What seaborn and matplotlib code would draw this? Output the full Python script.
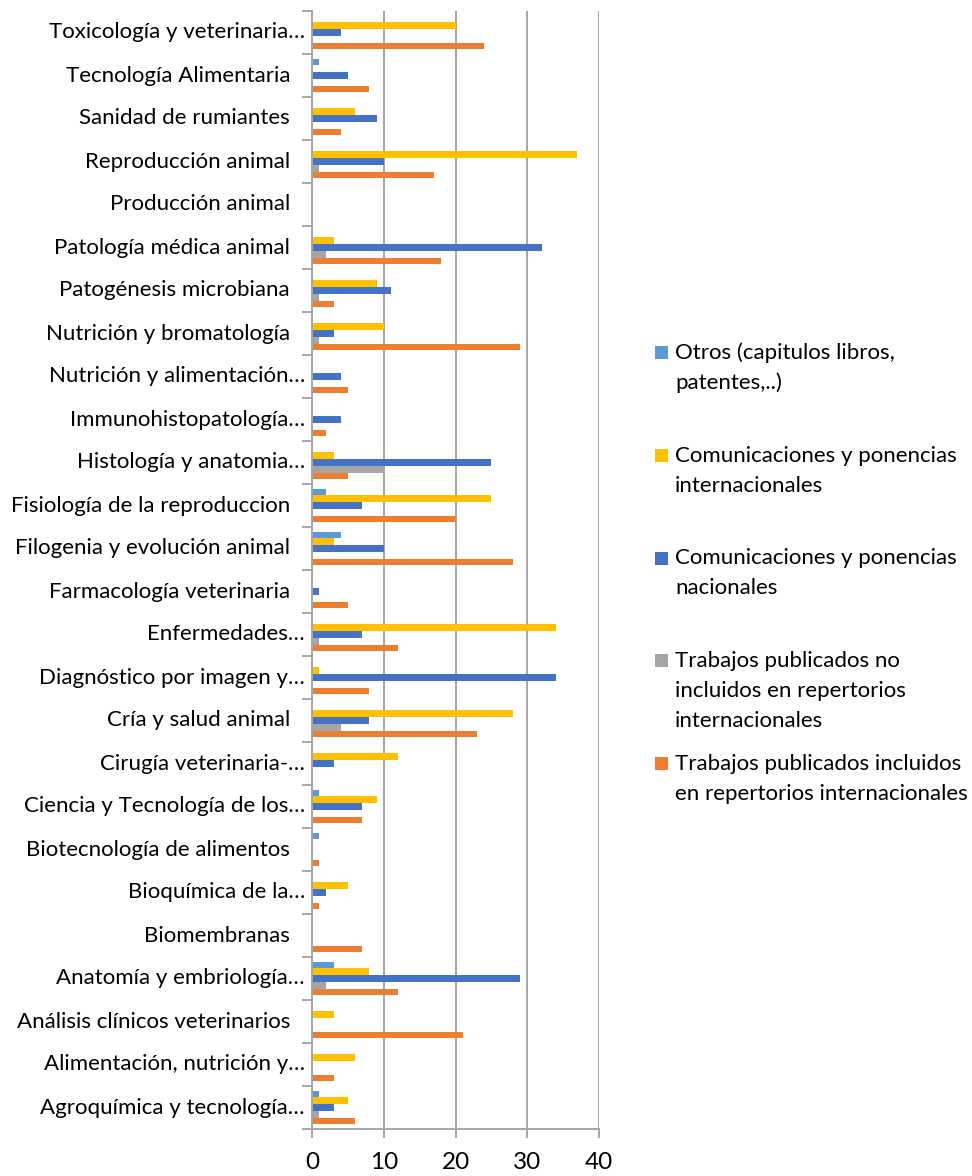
import matplotlib
matplotlib.use("Agg")
import matplotlib.pyplot as plt
from matplotlib.patches import Rectangle
from matplotlib.transforms import blended_transform_factory, offset_copy
import numpy as np
import pandas as pd
import seaborn as sns

plt.rcParams["font.family"] = ["Lato", "DejaVu Sans"]

# Research areas, listed from top to bottom
areas = [
    "Toxicología y veterinaria…",
    "Tecnología Alimentaria",
    "Sanidad de rumiantes",
    "Reproducción animal",
    "Producción animal",
    "Patología médica animal",
    "Patogénesis microbiana",
    "Nutrición y bromatología",
    "Nutrición y alimentación…",
    "Immunohistopatología…",
    "Histología y anatomia…",
    "Fisiología de la reproduccion",
    "Filogenia y evolución animal",
    "Farmacología veterinaria",
    "Enfermedades…",
    "Diagnóstico por imagen y…",
    "Cría y salud animal",
    "Cirugía veterinaria-…",
    "Ciencia y Tecnología de los…",
    "Biotecnología de alimentos",
    "Bioquímica de la…",
    "Biomembranas",
    "Anatomía y embriología…",
    "Análisis clínicos veterinarios",
    "Alimentación, nutrición y…",
    "Agroquímica y tecnología…",
]

# Output counts per area (same order as `areas`)
otros = [0, 1, 0, 0, 0, 0, 0, 0, 0, 0, 0, 2, 4, 0, 0, 0, 0, 0, 1, 1, 0, 0, 3, 0, 0, 1]
com_internacionales = [20, 0, 6, 37, 0, 3, 9, 10, 0, 0, 3, 25, 3, 0, 34, 1, 28, 12, 9, 0, 5, 0, 8, 3, 6, 5]
com_nacionales = [4, 5, 9, 10, 0, 32, 11, 3, 4, 4, 25, 7, 10, 1, 7, 34, 8, 3, 7, 0, 2, 0, 29, 0, 0, 3]
trab_no_incluidos = [0, 0, 0, 1, 0, 2, 1, 1, 0, 0, 10, 0, 0, 0, 1, 0, 4, 0, 0, 0, 0, 0, 2, 0, 0, 1]
trab_incluidos = [24, 8, 4, 17, 0, 18, 3, 29, 5, 2, 5, 20, 28, 5, 12, 8, 23, 0, 7, 1, 1, 7, 12, 21, 3, 6]

series_names = [
    "Otros (capitulos libros, patentes,..)",
    "Comunicaciones y ponencias internacionales",
    "Comunicaciones y ponencias nacionales",
    "Trabajos publicados no incluidos en repertorios internacionales",
    "Trabajos publicados incluidos en repertorios internacionales",
]
legend_lines = [
    ["Otros (capitulos libros,", "patentes,..)"],
    ["Comunicaciones y ponencias", "internacionales"],
    ["Comunicaciones y ponencias", "nacionales"],
    ["Trabajos publicados no", "incluidos en repertorios", "internacionales"],
    ["Trabajos publicados incluidos", "en repertorios internacionales"],
]
series_values = [otros, com_internacionales, com_nacionales, trab_no_incluidos, trab_incluidos]
series_colors = ["#5B9BD5", "#FFC000", "#4472C4", "#A5A5A5", "#ED7D31"]
x_ticks = [0, 10, 20, 30, 40]

rows = []
for name, vals in zip(series_names, series_values):
    for area, v in zip(areas, vals):
        rows.append({"area": area, "serie": name, "valor": v})
df = pd.DataFrame(rows)

W, H = 972, 1176
fig = plt.figure(figsize=(W / 100, H / 100), dpi=100)
ax_left, ax_right, ax_top, ax_bottom = 312, 599, 11, 1129
ax = fig.add_axes([ax_left / W, 1 - ax_bottom / H, (ax_right - ax_left) / W, (ax_bottom - ax_top) / H])

sns.barplot(
    data=df, y="area", x="valor", hue="serie",
    order=areas, hue_order=series_names, palette=series_colors,
    orient="h", width=0.78, saturation=1, errorbar=None,
    linewidth=0, legend=False, ax=ax,
)

grid_col = "#A6A6A6"
ax.set_xlim(0, 40)
ax.set_ylim(len(areas) - 0.5, -0.5)
ax.set_xticks(x_ticks)
ax.set_xticklabels([str(t) for t in x_ticks], fontsize=17.5, color="black")
ax.xaxis.grid(True, color=grid_col, linewidth=1.4)
ax.yaxis.grid(False)
ax.set_axisbelow(True)
ax.set_xlabel("")
ax.set_ylabel("")
ax.set_facecolor("white")
for side in ["top", "right"]:
    ax.spines[side].set_visible(False)
for side in ["left", "bottom"]:
    ax.spines[side].set_color(grid_col)
    ax.spines[side].set_linewidth(1.4)

ax.set_yticks(np.arange(len(areas)))
ax.set_yticks(np.arange(-0.5, len(areas), 1.0), minor=True)
ax.tick_params(axis="y", which="major", length=0, labelleft=False)
ax.tick_params(axis="y", which="minor", length=7.2, width=1.4, color=grid_col, direction="out")
ax.tick_params(axis="x", which="major", length=6.5, width=1.4, color=grid_col, direction="out", pad=10)

# Category labels, right-aligned against the value axis
trans = blended_transform_factory(ax.transAxes, ax.transData)
for i, lab in enumerate(areas):
    dx = -7 if lab.endswith("…") else -22
    ax.text(0, i, lab, transform=offset_copy(trans, fig=fig, x=dx, y=-6, units="dots"),
            ha="right", va="baseline", fontsize=16, color="black", clip_on=False)

# Legend on the right: square key + wrapped label
first_baseline, entry_step, line_step = 359, 102.75, 30
for k, (lines, col) in enumerate(zip(legend_lines, series_colors)):
    base = first_baseline + entry_step * k
    fig.patches.append(Rectangle((655 / W, 1 - base / H), 13 / W, 13 / H,
                                 transform=fig.transFigure, facecolor=col, edgecolor="none"))
    for j, line in enumerate(lines):
        fig.text(675 / W, 1 - (base + j * line_step) / H, line, ha="left", va="baseline",
                 fontsize=16, color="black")

fig.savefig("out.png", dpi=100, facecolor="white")
